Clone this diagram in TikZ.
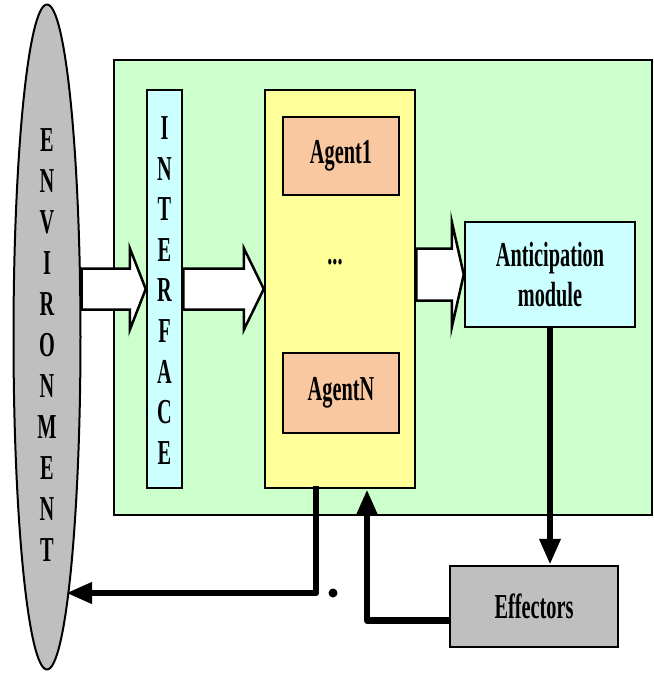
\documentclass[tikz,border=0pt]{standalone}
\usepackage{fontspec}
\setmainfont{Liberation Serif}[FakeStretch=0.58]
\usetikzlibrary{arrows.meta,shapes.geometric,calc}

\definecolor{envgray}{RGB}{191,191,191}
\definecolor{panelgreen}{RGB}{204,255,204}
\definecolor{boxcyan}{RGB}{204,255,255}
\definecolor{agentyellow}{RGB}{255,255,153}
\definecolor{agentorange}{RGB}{250,200,160}

% hollow block arrow: from, to, head length, shaft half width, head half width
\newcommand{\hollowarrow}[5]{%
  \draw[blockarrow] ($(#1)+(0,-#4)$) -- ($(#2)+(-#3,-#4)$) -- ($(#2)+(-#3,-#5)$)
    -- (#2) -- ($(#2)+(-#3,#5)$) -- ($(#2)+(-#3,#4)$) -- ($(#1)+(0,#4)$) -- cycle;}

\begin{document}
\begin{tikzpicture}[x=1pt,y=-1pt,
    font=\fontsize{35}{40}\selectfont\bfseries,
    box/.style={draw,line width=2.5pt,inner sep=0pt},
    blockarrow/.style={draw,fill=white,line width=2.5pt,line join=miter},
    feed/.style={line width=6.5pt,-{Triangle[length=26pt,width=20pt]}}]
  \useasboundingbox (0,0) rectangle (654,673);

  \node[box,fill=panelgreen,minimum width=538pt,minimum height=455pt] (panel) at (383,287.5) {};
  \node[box,fill=boxcyan,minimum width=35pt,minimum height=398pt] (iface) at (164.5,289) {};
  \node[box,fill=agentyellow,minimum width=150pt,minimum height=398pt] (agents) at (340,289) {};
  \node[box,fill=agentorange,minimum width=116pt,minimum height=78pt] (agent1) at (341,156) {Agent1};
  \node (dots) at (335,262) {...};
  \node[box,fill=agentorange,minimum width=116pt,minimum height=80pt] (agentn) at (341,393) {AgentN};
  \node[box,fill=boxcyan,minimum width=170pt,minimum height=105pt,align=center] (antic) at (550,274.5)
    {Anticipation\\module};
  \node[box,fill=envgray,minimum width=168pt,minimum height=81pt] (effectors) at (534,606.5) {Effectors};
  \node[ellipse,draw,line width=2pt,fill=envgray,minimum width=67pt,minimum height=665pt,inner sep=0pt]
    (env) at (47,337) {};

  % vertical lettering
  \foreach \ch [count=\i from 0] in {E,N,V,I,R,O,N,M,E,N,T}
    \node (envl\i) at (47,140+41*\i) {\ch};
  \foreach \ch [count=\i from 0] in {I,N,T,E,R,F,A,C,E}
    \node (ifl\i) at (164.5,128+40.6*\i) {\ch};

  % input flow
  \hollowarrow{env.east |- iface.west}{iface.west}{16}{20.5}{41}
  \hollowarrow{iface.east}{agents.west}{20}{20.5}{41}
  \hollowarrow{agents.east |- antic.west}{antic.west}{12}{26}{53}

  % action and feedback paths
  \path (env.center) ++(19,256) coordinate (envport);
  \draw[feed] (antic.south) -- (antic.south |- effectors.north);
  \draw[feed,line join=round] ($(agents.south)+(-24,-3)$) |- (envport);
  \draw[feed,line join=round] ($(effectors.west)+(2,14)$) -| ($(agents.south)+(27,0)$);
  \fill (333,593) circle (4.5pt);
\end{tikzpicture}
\end{document}
